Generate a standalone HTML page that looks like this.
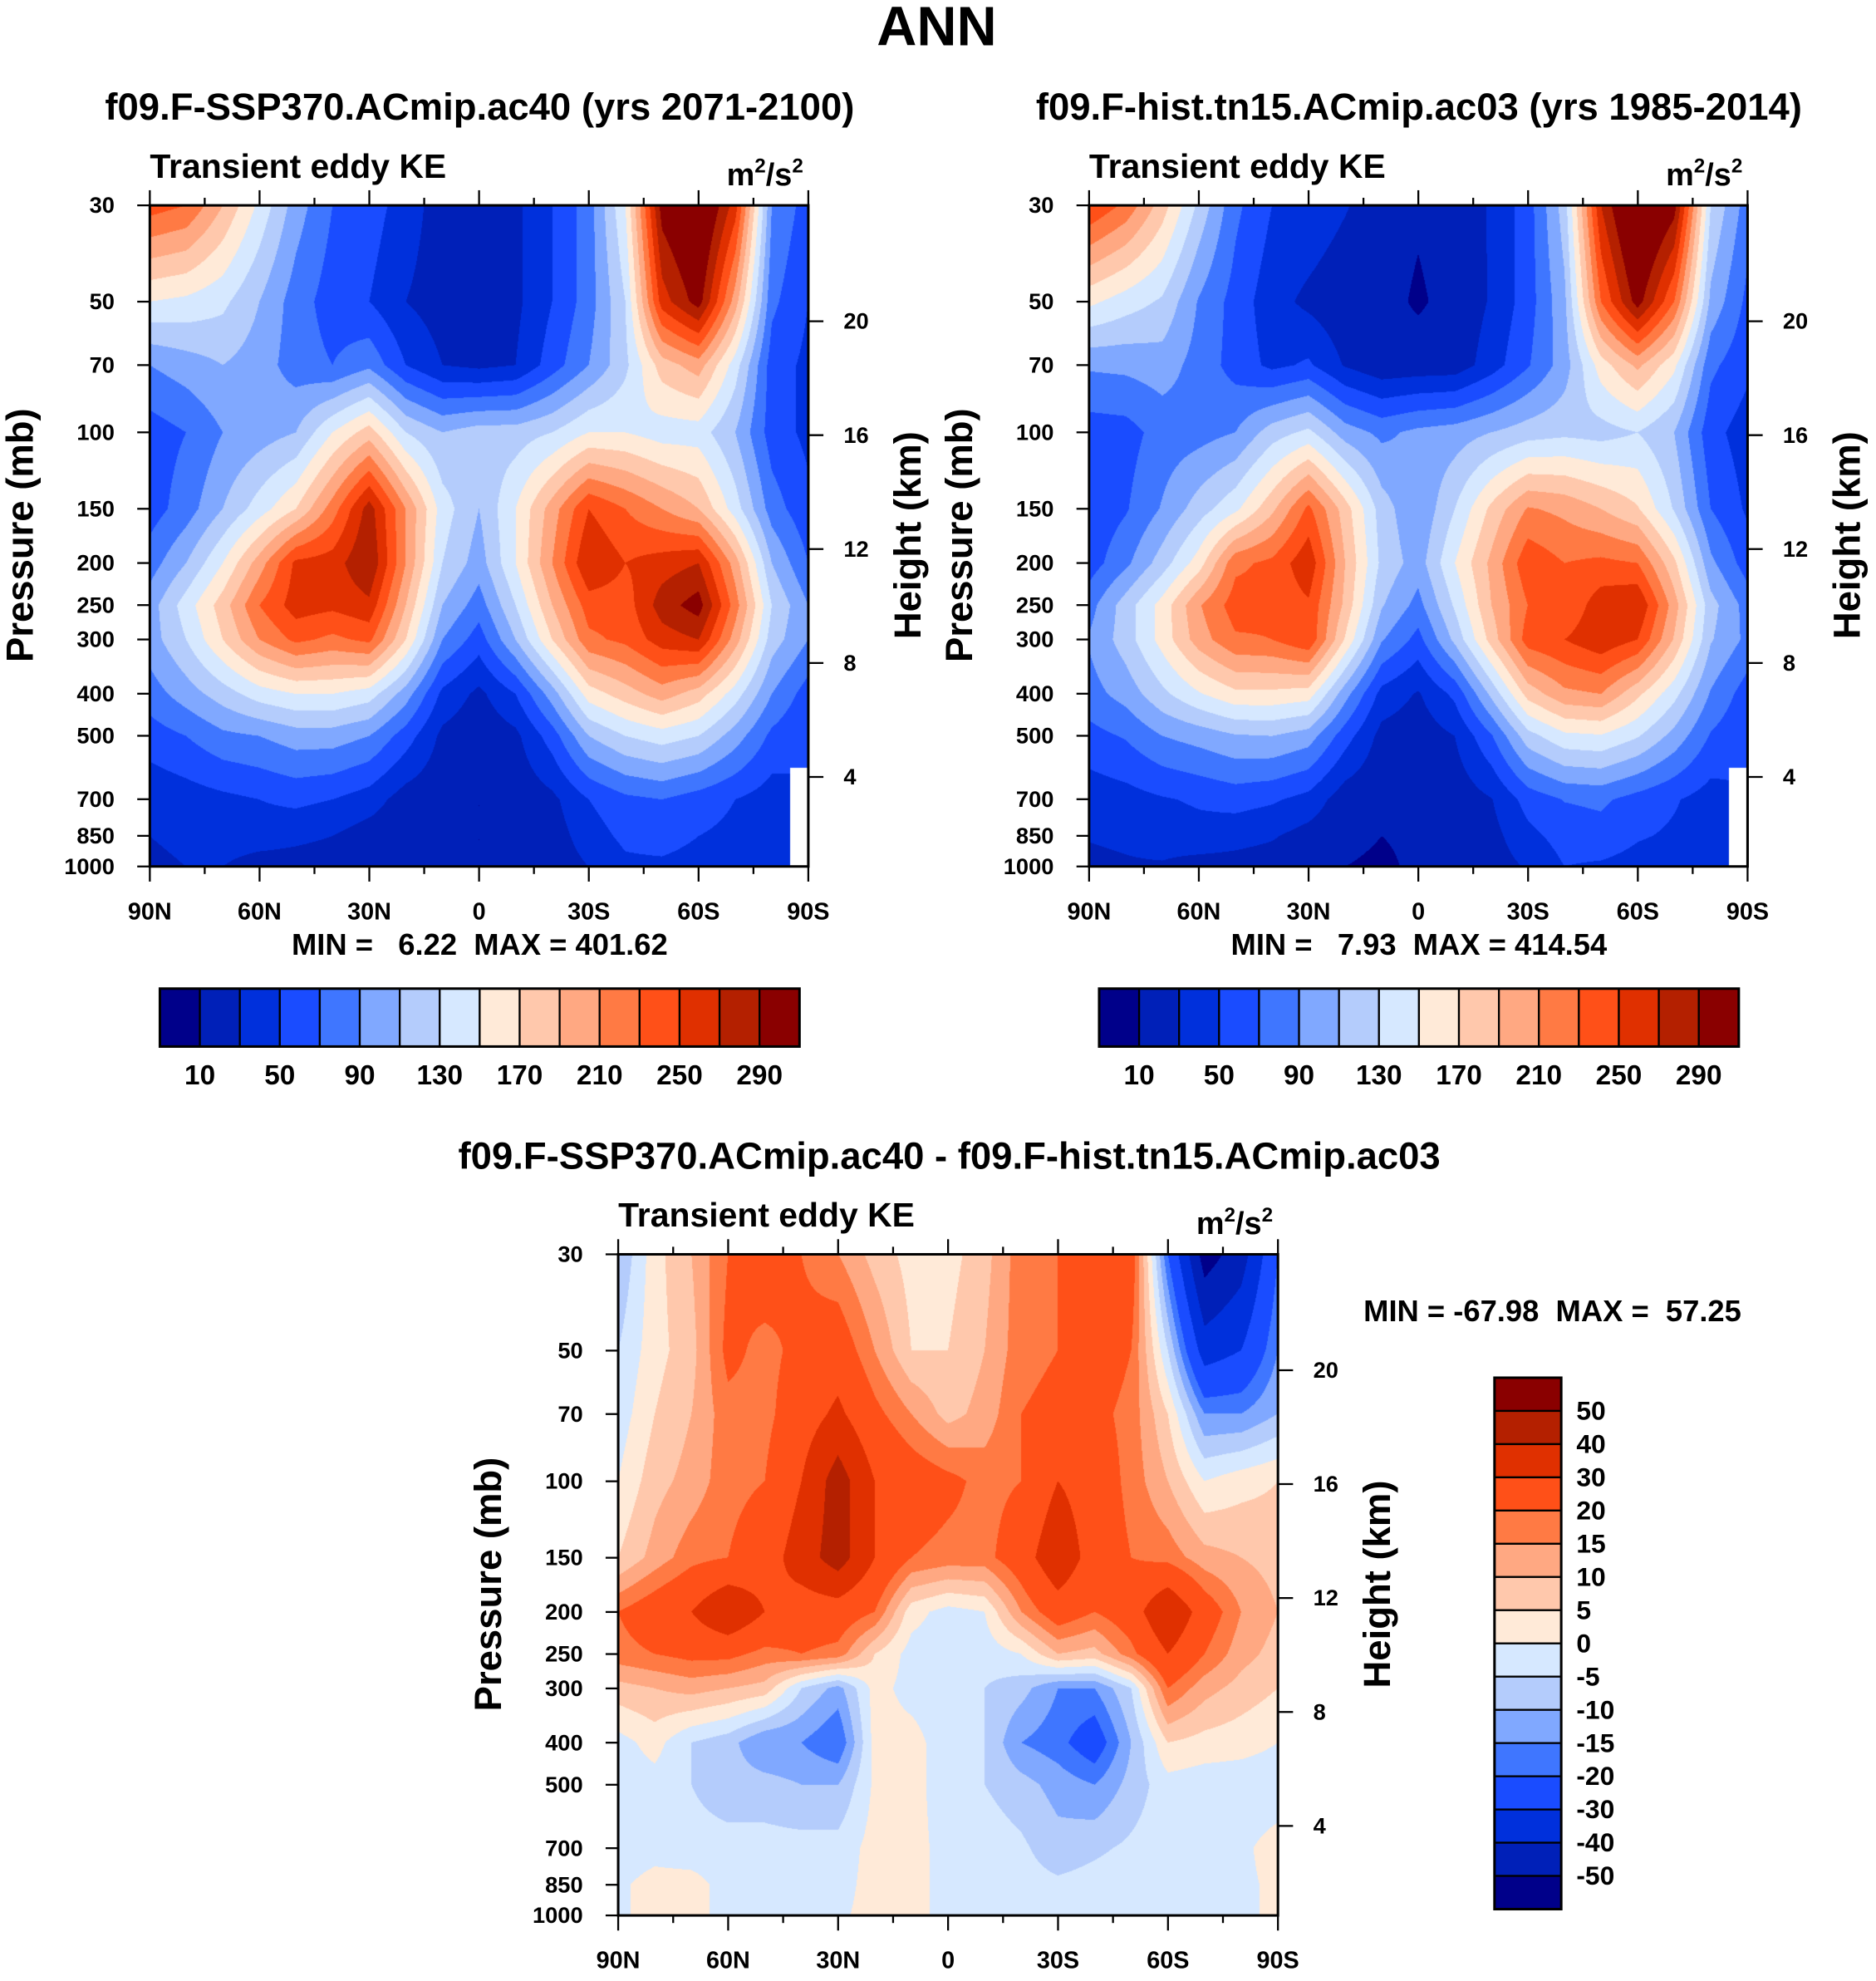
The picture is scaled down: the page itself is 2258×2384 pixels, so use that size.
<!DOCTYPE html>
<html><head><meta charset="utf-8">
<style>
html,body{margin:0;padding:0;background:#fff;}
#root{position:relative;width:2258px;height:2384px;overflow:hidden;background:#fff;}
canvas{position:absolute;}
svg{position:absolute;left:0;top:0;}
text{font-family:"Liberation Sans",Arial,sans-serif;font-weight:bold;fill:#000;white-space:pre;}
</style></head>
<body>
<div id="root">
<canvas id="c1"></canvas>
<canvas id="c2"></canvas>
<canvas id="c3"></canvas>
<svg id="svg" width="2258" height="2384" viewBox="0 0 1490 1573"></svg>
</div>
<script>
// ---- data ----
const lats = [90,80,70,60,50,40,30,20,10,0,-10,-20,-30,-40,-50,-60,-70,-80,-90];
const plevs = [30,50,70,100,150,200,250,300,400,500,700,850,1000];
const sspKE = [
[240,230,190,145,100,70,60,40,20,15,25,50,80,150,300,330,260,90,60],
[150,145,135,110,80,60,50,30,20,20,25,50,80,130,260,300,200,75,50],
[90,100,110,100,80,70,85,50,30,25,30,60,90,125,180,200,140,60,45],
[60,70,90,100,110,150,180,130,110,120,120,130,150,150,140,140,110,60,45],
[60,80,110,140,170,220,280,210,140,110,150,200,250,230,210,190,140,80,55],
[80,110,150,200,255,260,290,210,130,100,150,210,270,250,260,270,200,110,70],
[100,140,180,230,260,255,265,190,110,80,130,190,240,240,280,300,220,130,90],
[100,130,170,210,235,225,235,170,90,60,110,170,225,235,260,270,200,120,90],
[80,100,120,140,150,150,140,100,45,25,50,100,160,180,200,180,140,90,60],
[60,70,85,90,100,100,90,60,25,15,25,60,110,130,140,130,100,65,50],
[35,40,45,50,55,50,40,20,15,10,15,25,50,65,70,60,50,40,null],
[30,35,40,40,35,30,20,15,12,10,12,20,40,55,60,50,45,40,null],
[25,30,30,20,20,18,15,12,10,10,12,18,30,45,45,40,35,30,null]];
const histKE = [
[250,225,180,125,75,50,45,32,17,12,17,32,60,120,270,340,300,130,80],
[155,140,127,88,62,38,25,15,15,8,15,32,60,105,230,300,230,105,65],
[93,95,100,82,62,45,53,28,15,17,18,40,68,100,160,195,155,75,55],
[60,62,78,82,90,120,135,100,85,95,100,110,120,125,122,130,110,57,40],
[55,68,92,120,145,185,235,180,120,92,130,175,212,205,190,172,128,70,47],
[60,85,120,160,225,235,265,190,125,100,150,195,245,230,235,230,175,95,60],
[82,120,158,208,240,235,247,185,112,83,133,190,230,232,262,270,200,118,82],
[92,120,158,200,227,230,247,168,92,63,115,178,240,250,265,250,188,112,85],
[82,98,125,148,165,165,160,98,43,28,55,115,178,205,210,175,137,88,60],
[63,72,90,98,108,110,100,59,23,18,30,68,122,145,148,132,103,68,53],
[38,42,48,53,58,53,43,18,13,12,17,29,58,71,74,62,52,41,null],
[31,33,38,42,37,32,22,13,10,12,14,23,44,58,62,52,47,41,null],
[26,28,28,22,22,20,16,10,8,12,14,20,32,50,47,42,37,31,null]];
const diffKE = [
[-10,3,10,20,25,20,15,8,3,3,8,18,20,22,25,-20,-55,-45,-20],
[-5,3,8,22,18,22,25,15,5,5,10,18,20,25,20,-5,-35,-30,-15],
[-3,5,10,18,18,25,32,22,15,8,12,20,22,22,18,5,-15,-15,-10],
[0,8,12,18,20,30,45,30,25,22,18,20,30,25,18,10,0,3,5],
[5,12,18,20,25,35,45,30,20,18,18,25,38,25,20,18,12,10,8],
[20,25,30,40,30,25,25,20,2,-2,0,15,25,20,25,40,25,15,10],
[18,20,22,22,18,20,18,5,-2,-3,-3,0,10,8,18,30,20,12,8],
[8,10,12,10,8,-5,-12,2,-2,-3,-5,-8,-15,-15,-5,20,12,8,5],
[-2,2,-5,-8,-15,-15,-20,2,2,-3,-5,-15,-18,-25,-10,5,3,2,0],
[-3,-2,-5,-8,-8,-10,-10,1,2,-3,-5,-8,-12,-15,-8,-2,-3,-3,-3],
[-3,-2,-3,-3,-3,-3,-3,2,2,-2,-2,-4,-8,-6,-4,-2,-2,-1,2],
[-1,2,2,-2,-2,-2,-2,2,2,-2,-2,-3,-4,-3,-2,-2,-2,-1,1],
[-1,2,2,-2,-2,-2,-1,2,2,-2,-2,-2,-2,-5,-2,-2,-2,-1,1]];
const keLevels = [10,30,50,70,90,110,130,150,170,190,210,230,250,270,290];
const diffLevels = [-50,-40,-30,-20,-15,-10,-5,0,5,10,15,20,30,40,50];
const keLabels = ["10","50","90","130","170","210","250","290"];
const diffLabels = ["50","40","30","20","15","10","5","0","-5","-10","-15","-20","-30","-40","-50"];
const xTickLats = [90,60,30,0,-30,-60,-90];
const xTickLabels = ["90N","60N","30N","0","30S","60S","90S"];
const pTicks = [30,50,70,100,150,200,250,300,400,500,700,850,1000];
const hTicks = [4,8,12,16,20];
const colors = ["#00008a","#0020b8","#0030dc","#1a4cff","#3f76ff","#80a8ff","#b4ccfc","#d6e8ff","#ffead8","#ffc8ac","#ffa882","#ff7a44","#ff5018","#e03000","#b42000","#8a0000"];

const S = 2258/1490;
const NS = "http://www.w3.org/2000/svg";
const svg = document.getElementById('svg');
const panels = [
 {x0:119,y0:163,w:523,h:525,data:sspKE,lev:keLevels,cv:'c1',name:'ssp370'},
 {x0:865,y0:163,w:523,h:525,data:histKE,lev:keLevels,cv:'c2',name:'hist'},
 {x0:491,y0:996,w:524,h:525,data:diffKE,lev:diffLevels,cv:'c3',name:'diff'}];

function xOf(P,lat){return P.x0+(90-lat)/180*P.w;}
function yOf(P,p){return P.y0+Math.log(p/30)/Math.log(1000/30)*P.h;}
function hToP(h){return 1138*Math.exp(-h/6.62);}

function hex(c){return [parseInt(c.substr(1,2),16),parseInt(c.substr(3,2),16),parseInt(c.substr(5,2),16)];}
const rgb = colors.map(hex);
function bin(v,lev){let k=0;while(k<lev.length&&v>=lev[k])k++;return k;}

function drawField(P){
  const cv=document.getElementById(P.cv);
  const L=Math.round(P.x0*S),T=Math.round(P.y0*S);
  const W=Math.round((P.x0+P.w)*S)-L,H=Math.round((P.y0+P.h)*S)-T;
  cv.width=W;cv.height=H;cv.style.left=L+'px';cv.style.top=T+'px';
  const ctx=cv.getContext('2d');const img=ctx.createImageData(W,H);
  const lp=plevs.map(p=>Math.log(p));const D=P.data;
  for(let j=0;j<H;j++){
    const p=30*Math.exp((j+0.5)/H*Math.log(1000/30));const l=Math.log(p);
    let r=0;while(r<plevs.length-2&&l>lp[r+1])r++;
    const fy=Math.min(1,Math.max(0,(l-lp[r])/(lp[r+1]-lp[r])));
    for(let i=0;i<W;i++){
      const lat=90-(i+0.5)/W*180;
      let c=Math.min(lats.length-2,Math.floor((90-lat)/10));
      const fx=((90-lat)-c*10)/10;
      const o=(j*W+i)*4;
      const nr=fy<0.5?r:r+1,nc=fx<0.5?c:c+1;
      if(D[nr][nc]===null){img.data[o]=255;img.data[o+1]=255;img.data[o+2]=255;img.data[o+3]=255;continue;}
      const cs=[[D[r][c],(1-fx)*(1-fy)],[D[r][c+1],fx*(1-fy)],[D[r+1][c],(1-fx)*fy],[D[r+1][c+1],fx*fy]];
      let sw=0,sv=0;cs.forEach(q=>{if(q[0]!==null){sw+=q[1];sv+=q[0]*q[1];}});
      const v=sw>0?sv/sw:0;
      const col=rgb[bin(v,P.lev)];
      img.data[o]=col[0];img.data[o+1]=col[1];img.data[o+2]=col[2];img.data[o+3]=255;
    }
  }
  ctx.putImageData(img,0,0);
}
panels.forEach(drawField);

function el(tag,attrs,txt){const e=document.createElementNS(NS,tag);for(const k in attrs)e.setAttribute(k,attrs[k]);if(txt!==undefined)e.textContent=txt;svg.appendChild(e);return e;}
function line(x1,y1,x2,y2,w){return el('line',{x1:x1,y1:y1,x2:x2,y2:y2,stroke:'#000','stroke-width':w||1.5});}

function axes(P){
  const g=P.name;
  const fr=el('rect',{x:P.x0,y:P.y0,width:P.w,height:P.h,fill:'none',stroke:'#000','stroke-width':2});
  
  for(let lat=90;lat>=-90;lat-=15){
    const x=xOf(P,lat);const major=lat%30===0;const len=major?12:6;
    line(x,P.y0,x,P.y0-len,1.5);line(x,P.y0+P.h,x,P.y0+P.h+len,1.5);
  }
  xTickLats.forEach((lat,i)=>{
    const t=el('text',{x:xOf(P,lat),y:P.y0+P.h+42,'font-size':19,'text-anchor':'middle'},xTickLabels[i]);
    
  });
  pTicks.forEach(p=>{
    const y=yOf(P,p);line(P.x0,y,P.x0-10,y,1.5);
    const t=el('text',{x:P.x0-28,y:y+6,'font-size':18,'text-anchor':'end'},String(p));
    
  });
  hTicks.forEach(h=>{
    const y=yOf(P,hToP(h));line(P.x0+P.w,y,P.x0+P.w+12,y,1.5);
    const t=el('text',{x:P.x0+P.w+28,y:y+6,'font-size':18},String(h));
    
  });
  const yt=el('text',{x:0,y:0,'font-size':30,'text-anchor':'middle',transform:`translate(${P.x0-93},${P.y0+262}) rotate(-90)`},'Pressure (mb)');
  
  const yr=el('text',{x:0,y:0,'font-size':30,'text-anchor':'middle',transform:`translate(${P.x0+P.w+89},${P.y0+262}) rotate(-90)`},'Height (km)');
  
  const lt=el('text',{x:P.x0,y:P.y0-22,'font-size':27},'Transient eddy KE');
  
  const u=el('text',{x:P.x0+P.w-4,y:P.y0-16,'font-size':25,'text-anchor':'end'});
  u.innerHTML='m<tspan dy="-10" font-size="16">2</tspan><tspan dy="10">/s</tspan><tspan dy="-10" font-size="16">2</tspan>';
  
}
panels.forEach(axes);

let t;
t=el('text',{x:744,y:36,'font-size':44,'text-anchor':'middle'},'ANN');

t=el('text',{x:381,y:95,'font-size':30,'text-anchor':'middle'},'f09.F-SSP370.ACmip.ac40 (yrs 2071-2100)');

t=el('text',{x:1127,y:95,'font-size':30,'text-anchor':'middle'},'f09.F-hist.tn15.ACmip.ac03 (yrs 1985-2014)');

t=el('text',{x:754,y:928,'font-size':30,'text-anchor':'middle'},'f09.F-SSP370.ACmip.ac40 - f09.F-hist.tn15.ACmip.ac03');

t=el('text',{x:381,y:758,'font-size':24,'text-anchor':'middle'},'MIN =   6.22  MAX = 401.62');

t=el('text',{x:1127,y:758,'font-size':24,'text-anchor':'middle'},'MIN =   7.93  MAX = 414.54');

t=el('text',{x:1233,y:1049,'font-size':24,'text-anchor':'middle'},'MIN = -67.98  MAX =  57.25');


[127,873].forEach((cx,pi)=>{
  const bw=508/16;
  colors.forEach((c,k)=>{
    const r=el('rect',{x:cx+k*bw,y:785,width:bw,height:46,fill:c,stroke:'#000','stroke-width':1.5});
    
  });
  el('rect',{x:cx,y:785,width:508,height:46,fill:'none',stroke:'#000','stroke-width':2});
  keLabels.forEach((lab,i)=>{
    const x=cx+(1+2*i)*bw;
    const tt=el('text',{x:x,y:861,'font-size':22,'text-anchor':'middle'},lab);
    
  });
});
{
  const bh=422/16;
  colors.slice().reverse().forEach((c,k)=>{
    const r=el('rect',{x:1187,y:1094+k*bh,width:53,height:bh,fill:c,stroke:'#000','stroke-width':1.5});
    
  });
  el('rect',{x:1187,y:1094,width:53,height:422,fill:'none',stroke:'#000','stroke-width':2});
  diffLabels.forEach((lab,i)=>{
    const tt=el('text',{x:1252,y:1094+(i+1)*bh+7,'font-size':21},lab);
    
  });
}
</script>
</body></html>
